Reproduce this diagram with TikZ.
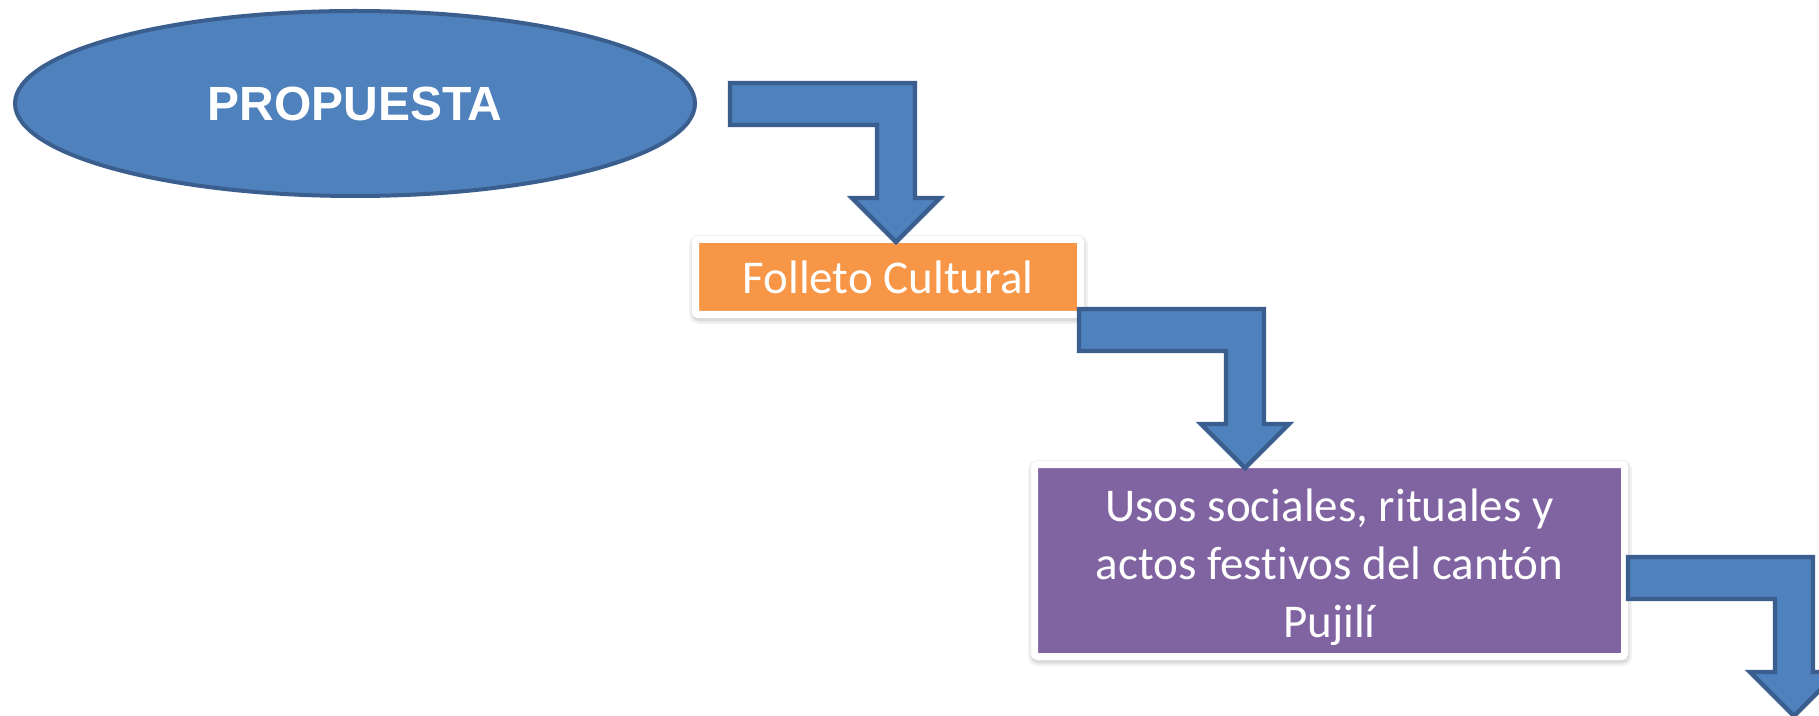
\documentclass[tikz,border=0pt]{standalone}
\usepackage{fontspec}
\newfontfamily\calibri[Ligatures=NoCommon]{Carlito}
\newfontfamily\arialf{Liberation Sans}
\usetikzlibrary{shapes.geometric}
\definecolor{ofblue}{HTML}{4F81BD}
\definecolor{ofblueline}{HTML}{3A5F8F}
\definecolor{oforange}{HTML}{F79646}
\definecolor{ofpurple}{HTML}{8064A2}
\begin{document}
\begin{tikzpicture}[x=0.5pt,y=-0.5pt,
  oval/.style={ellipse, draw=ofblueline, line width=2pt, fill=ofblue, inner sep=0pt,
    minimum width=340pt, minimum height=92.5pt, text=white,
    font=\arialf\bfseries\fontsize{24}{28}\selectfont},
  panel/.style={rectangle, draw=white, line width=3.5pt, inner sep=0pt, text=white,
    rounded corners=1.5pt,
    font=\calibri\fontsize{23.5}{29}\selectfont, align=center,
    preaction={draw=black!5, fill=black!5, line width=7pt, transform canvas={shift={(0.3pt,-1.2pt)}}},
    preaction={draw=black!9, fill=black!9, line width=5pt, transform canvas={shift={(0.3pt,-1.3pt)}}},
    preaction={draw=black!14, fill=black!14, line width=3.5pt, transform canvas={shift={(0.3pt,-1.4pt)}}}},
  paneltext/.style={text=white, font=\calibri\fontsize{23.5}{29}\selectfont, align=center, inner sep=0pt},
  barrow/.style={fill=ofblue, draw=ofblueline, line width=2.2pt, line join=miter}
]
\useasboundingbox (0,0) rectangle (1819,716);
\clip (0,0) rectangle (1819,716);
\fill[white] (0,0) rectangle (1819,716);

\node[oval] (prop) at (355,103.5) {PROPUESTA};
\node[panel, fill=oforange, minimum width=192.5pt, minimum height=37.5pt] (folleto) at (888,277) {Folleto Cultural};
\node[panel, fill=ofpurple, minimum width=295pt, minimum height=96pt] (usos) at (1329.5,560.5) {};
\node[paneltext] (usostext) at (1329.5,567)
  {Usos sociales, rituales y\\actos festivos del cantón\\Pujilí};

\coordinate (a1) at (730,83);
\coordinate (a2) at (1079,309);
\coordinate (a3) at (1628,557);
\foreach \c in {a1,a2,a3}{
  \draw[barrow, shift={(\c)}] (0,0) -- (185,0) -- (185,115) -- (210,115) -- (166,159)
    -- (122,115) -- (147,115) -- (147,42) -- (0,42) -- cycle;
}
\end{tikzpicture}
\end{document}
